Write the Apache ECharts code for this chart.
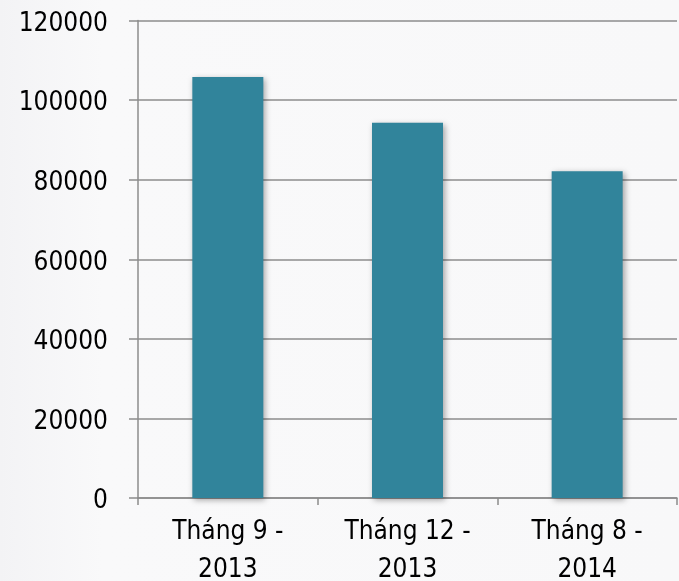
<!DOCTYPE html>
<html>
<head>
<meta charset="utf-8">
<script src="https://cdn.jsdelivr.net/npm/echarts@6/dist/echarts.min.js"></script>
<style>
html,body{margin:0;padding:0;background:#f8f8f9;}
#chart{width:679px;height:581px;}
</style>
</head>
<body>
<div id="chart"></div>
<script>
const categories = ['Tháng 9 -\n2013', 'Tháng 12 -\n2013', 'Tháng 8 -\n2014'];
const values = [105800, 94300, 82100];
const yTicks = { min: 0, max: 120000, interval: 20000 };

const FONT = 'DejaVu Sans Condensed';
const chart = echarts.init(document.getElementById('chart'));
chart.setOption({
  backgroundColor: {
    type: 'linear', x: 0, y: 0, x2: 1, y2: 0,
    colorStops: [
      { offset: 0, color: '#f3f3f5' },
      { offset: 0.15, color: '#f9f9fa' },
      { offset: 1, color: '#f8f8f9' }
    ]
  },
  animation: false,
  grid: { left: 138, right: 2, top: 20.5, bottom: 83, outerBoundsMode: 'none', containLabel: false },
  xAxis: {
    type: 'category',
    data: categories,
    axisLine: { show: true, lineStyle: { color: '#8c8c8c', width: 1.5 } },
    axisTick: { show: true, length: 7, lineStyle: { color: '#8c8c8c', width: 1.5 } },
    axisLabel: {
      color: '#000', fontFamily: FONT, fontSize: 26,
      lineHeight: 38, margin: 15, interval: 0
    }
  },
  yAxis: {
    type: 'value',
    min: yTicks.min, max: yTicks.max, interval: yTicks.interval,
    axisLine: { show: true, lineStyle: { color: '#8c8c8c', width: 1.5 } },
    axisTick: { show: true, inside: false, length: 9, lineStyle: { color: '#8c8c8c', width: 1.5 } },
    splitLine: { show: true, lineStyle: { color: '#8c8c8c', width: 1.5 } },
    axisLabel: {
      color: '#000', fontFamily: FONT, fontSize: 26, margin: 30,
      formatter: function (v) { return '{v|' + v + '}'; },
      rich: { v: { color: '#000', fontFamily: FONT, fontSize: 26, padding: [7, 0, 0, 0] } }
    }
  },
  series: [{
    type: 'bar',
    data: values,
    barWidth: 71,
    itemStyle: {
      color: '#31849b',
      shadowColor: 'rgba(0,0,0,0.35)',
      shadowBlur: 6,
      shadowOffsetX: 2,
      shadowOffsetY: 2
    }
  }]
});
</script>
</body>
</html>
